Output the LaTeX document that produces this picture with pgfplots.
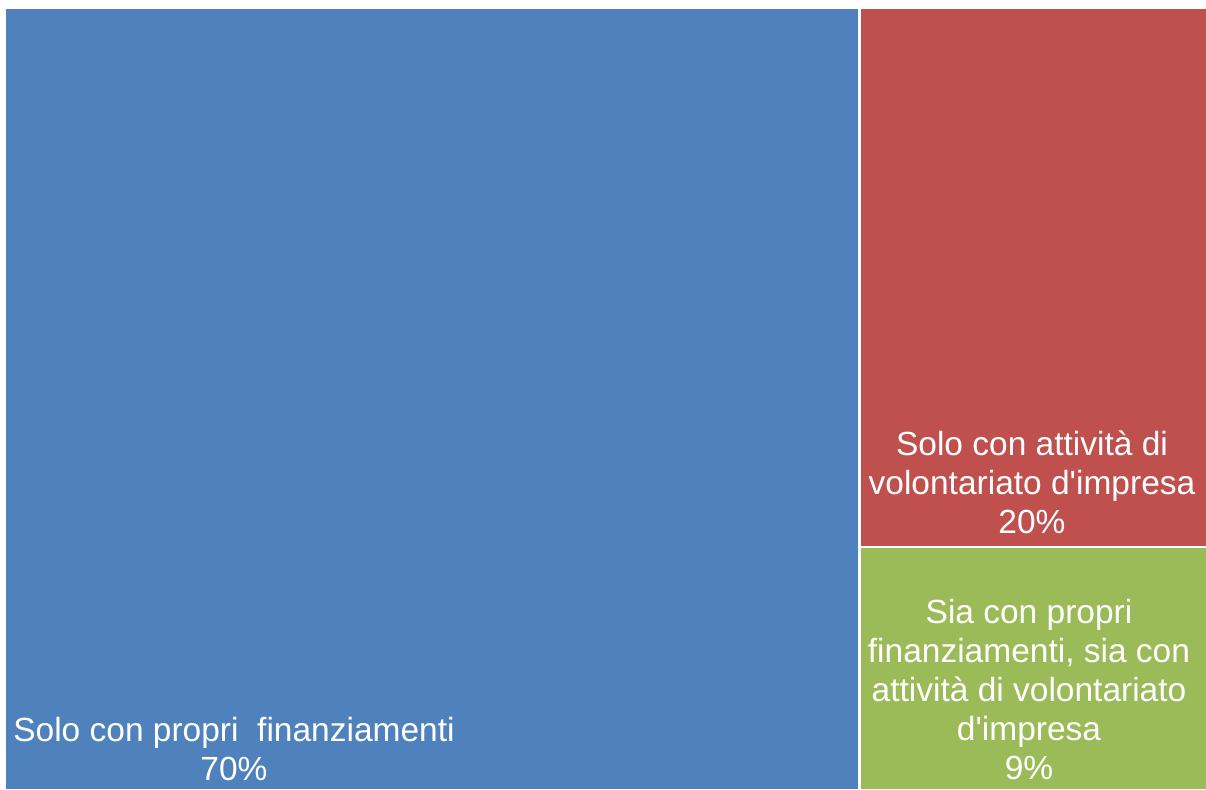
\documentclass[border=0pt]{standalone}
\usepackage{pgfplots}
\pgfplotsset{compat=1.18}
\usepackage{fontspec}
\setmainfont{Liberation Sans}
\definecolor{tmblue}{HTML}{4F81BD}
\definecolor{tmred}{HTML}{C0504D}
\definecolor{tmgreen}{HTML}{9BBB59}
\tikzset{tmlabel/.style={font=\fontsize{16.75}{19.5}\selectfont, text=white, align=center, inner sep=0pt, anchor=center}}
\begin{document}
\begin{tikzpicture}
\begin{axis}[
  width=603pt, height=394.5pt, scale only axis,
  xmin=0, xmax=1206, ymin=0, ymax=789, y dir=reverse,
  axis lines=none, clip=false,
]
% Solo con propri finanziamenti 70%
\addplot[draw=none, fill=tmblue] coordinates {(6,8.5) (858,8.5) (858,789) (6,789)} -- cycle;
% Solo con attività di volontariato d'impresa 20%
\addplot[draw=none, fill=tmred] coordinates {(860.5,8.5) (1206,8.5) (1206,545.5) (860.5,545.5)} -- cycle;
% Sia con propri finanziamenti, sia con attività di volontariato d'impresa 9%
\addplot[draw=none, fill=tmgreen] coordinates {(860.5,547.5) (1206,547.5) (1206,789) (860.5,789)} -- cycle;
\coordinate (A) at (axis cs:0,0);
\coordinate (B) at (axis cs:1206,789);
\node[tmlabel] at (axis cs:234,749) {Solo con propri\ \ finanziamenti\\70\%};
\node[tmlabel] at (axis cs:1032,482) {Solo con attività di\\volontariato d\textquotesingle impresa\\20\%};
\node[tmlabel] at (axis cs:1029,690) {Sia con propri\\finanziamenti, sia con\\attività di volontariato\\d\textquotesingle impresa\\9\%};
\end{axis}
\pgfresetboundingbox
\path[use as bounding box] (A) rectangle (B);
\end{tikzpicture}
\end{document}
